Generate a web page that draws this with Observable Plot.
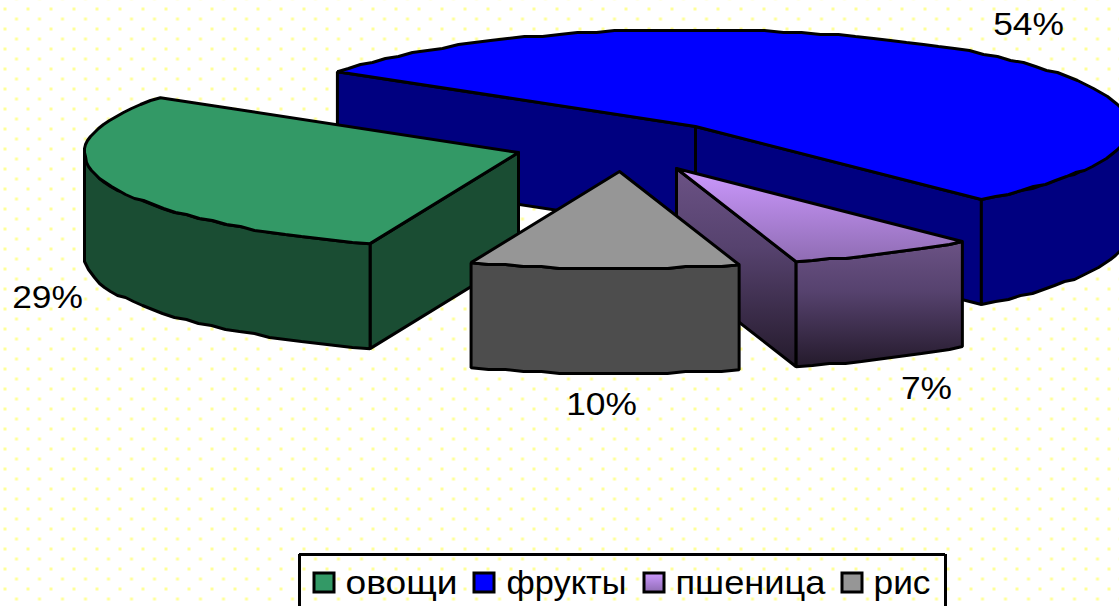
<!DOCTYPE html>
<html lang="ru">
<head>
<meta charset="utf-8">
<script src="https://cdn.jsdelivr.net/npm/d3@7"></script>
<script src="https://cdn.jsdelivr.net/npm/@observablehq/plot@0.6"></script>
<style>
  html, body { margin: 0; padding: 0; background: #fff; overflow: hidden; }
</style>
</head>
<body>
<div id="chart"></div>
<script>
// ---- data ----
const categories = ["овощи", "фрукты", "пшеница", "рис"];
const shares = [29, 54, 7, 10];
const topColors = ["#339966", "#0000ff", "url(#wheatTop)", "#969696"];
const wallColors = ["#1a4d33", "#000080", "url(#wheatWall)", "#4d4d4d"];

// ---- pie layout ----
const W = 1119, H = 606;
const RX = 434, RY = 97, DEPTH = 105;
const START = 145.6;                                   // degrees, clockwise sweep
const apexX = [518, 695, 676, 619];
const apexY = [152, 126, 168, 171];
const labelX = [47, 1028, 926, 601];
const labelY = [298, 25, 389, 405];
const legendSwatchX = [314, 474, 644, 842];
const legendTextX = [345, 506, 675, 873];
const legendTextW = [112, 120, 150, 57];

const rad = (d) => d * Math.PI / 180;
const snap = (v) => Math.round(v / 2) * 2;

function arc(i, a0, a1, dy = 0) {
  const n = Math.max(2, Math.ceil(Math.abs(a1 - a0) / 2.5));
  return d3.range(n + 1).map((k) => {
    const a = rad(a0 + (a1 - a0) * k / n);
    const x = apexX[i] + RX * Math.cos(a), y = apexY[i] - RY * Math.sin(a);
    const end = k === 0 || k === n;
    return {x: end ? x : Math.round(x), y: (end ? y : snap(y)) + dy};
  });
}
const close = (pts) => [...pts, pts[0]];
const edge = (i, a) => ({x: apexX[i] + RX * Math.cos(rad(a)), y: apexY[i] - RY * Math.sin(rad(a))});
const down = (p) => ({x: p.x, y: p.y + DEPTH});
const apex = (i) => ({x: apexX[i], y: apexY[i]});

// clockwise angle spans, in pie order: фрукты, пшеница, рис, овощи
const spans = {};
let angle = START;
for (const i of [1, 2, 3, 0]) {
  const end = angle - shares[i] * 3.6;
  spans[i] = [angle, end];
  angle = end;
}

// rim portion that faces the viewer: the lower half of the ellipse
function rim(i, from, to) {
  const top = arc(i, from, to), bot = arc(i, to, from, DEPTH);
  return {pts: close([...top, ...bot]), fill: wallColors[i]};
}
function wallAt(i, a) {
  const A = apex(i), q = edge(i, a);
  return {pts: close([A, q, down(q), down(A)]), fill: wallColors[i]};
}
function sliceFaces(i) {
  const [a0, a1] = spans[i];
  const faces = [];
  if (i === 1) faces.push(wallAt(i, a0), wallAt(i, a1));
  if (i === 2) faces.push(wallAt(i, a1));
  if (i === 0) faces.push(wallAt(i, a0));
  faces.push(i === 0 ? rim(i, a0, -180) : rim(i, Math.min(a0, 0), Math.max(a1, -180)));
  faces.push({pts: close([apex(i), ...arc(i, a0, a1)]), fill: topColors[i]});
  return faces;
}

// painter's order: фрукты, овощи, пшеница, рис
const faces = [1, 0, 2, 3].flatMap(sliceFaces);

const labels = categories.map((c, i) => ({text: `${shares[i]}%`, x: labelX[i], y: labelY[i]}));
const legendItems = categories.map((c, i) => ({
  name: c,
  x1: legendSwatchX[i], x2: legendSwatchX[i] + 20,
  tx: legendTextX[i], tw: legendTextW[i],
  fill: topColors[i]
}));

const defs = () => d3.create("svg:defs").html(`
  <pattern id="dots" patternUnits="userSpaceOnUse" width="23" height="20">
    <rect x="3" y="7" width="3" height="3" fill="#ffff99"/>
    <rect x="14.5" y="17" width="3" height="3" fill="#ffff99"/>
  </pattern>
  <linearGradient id="wheatTop" x1="0" y1="0" x2="0" y2="1">
    <stop offset="0" stop-color="#cc99ff"/>
    <stop offset="1" stop-color="#8f6cb3"/>
  </linearGradient>
  <linearGradient id="wheatWall" x1="0" y1="0" x2="0" y2="1">
    <stop offset="0" stop-color="#6b5285"/>
    <stop offset="0.4" stop-color="#56426e"/>
    <stop offset="1" stop-color="#241a2b"/>
  </linearGradient>
`).node();

const stretch = (f) => (index, scales, values, dims, ctx, next) => {
  const g = next(index, scales, values, dims, ctx);
  g.querySelectorAll("text").forEach((t) => {
    t.setAttribute("transform", `${t.getAttribute("transform") || ""} scale(${f},1)`);
  });
  return g;
};
const fitWidths = (index, scales, values, dims, ctx, next) => {
  const g = next(index, scales, values, dims, ctx);
  g.querySelectorAll("text").forEach((t, k) => {
    t.setAttribute("textLength", legendTextW[index[k]]);
    t.setAttribute("lengthAdjust", "spacingAndGlyphs");
  });
  return g;
};

const chart = Plot.plot({
  width: W, height: H,
  margin: 0,
  x: {domain: [0, W], range: [0, W], axis: null},
  y: {domain: [0, H], range: [0, H], axis: null},
  color: {type: "identity"},
  style: {fontFamily: "'Liberation Sans', Arial, sans-serif", background: "#fff", color: "#000"},
  marks: [
    defs,
    Plot.frame({fill: "url(#dots)", stroke: "none"}),
    ...faces.map((f) => Plot.line(f.pts, {
      x: "x", y: "y", fill: f.fill, stroke: "#000", strokeWidth: 3,
      strokeLinejoin: "miter", curve: "linear"
    })),
    Plot.text(labels, {x: "x", y: "y", text: "text", fontSize: 31, fill: "#000", render: stretch(1.14)}),
    Plot.ruleX([299, 945], {y1: 554, y2: H + 4, stroke: "#000", strokeWidth: 3}),
    Plot.ruleY([554], {x1: 299, x2: 945, stroke: "#000", strokeWidth: 3}),
    Plot.rect(legendItems, {
      x1: "x1", x2: "x2", y1: () => 573, y2: () => 592,
      fill: "fill", stroke: "#000", strokeWidth: 3
    }),
    Plot.text(legendItems, {
      x: "tx", y: () => 583, text: "name", textAnchor: "start", fontSize: 33, fill: "#000",
      render: fitWidths
    })
  ]
});
document.getElementById("chart").appendChild(chart);
</script>
</body>
</html>
